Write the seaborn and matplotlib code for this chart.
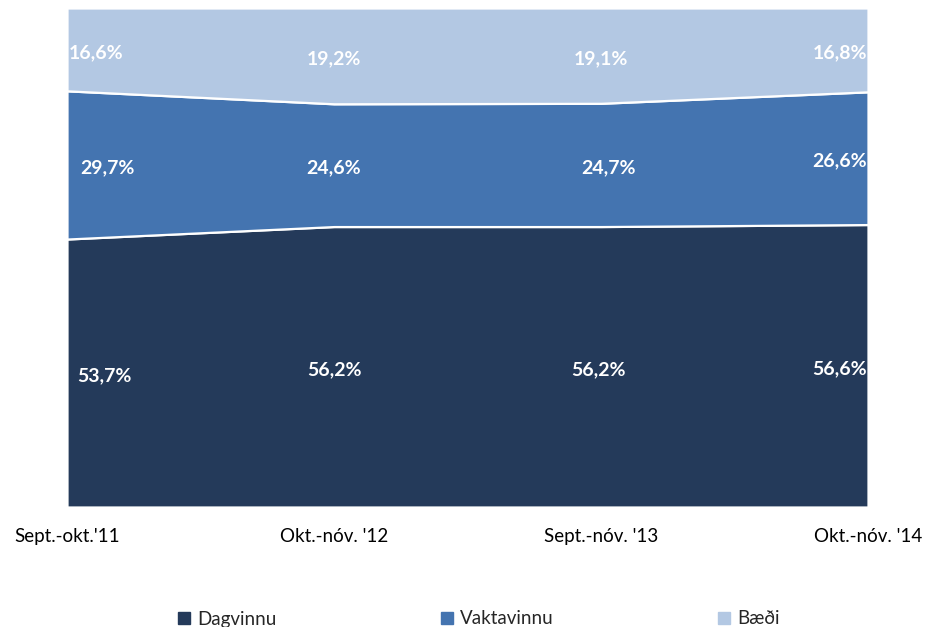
import matplotlib
matplotlib.use("Agg")
import matplotlib.pyplot as plt
from matplotlib.lines import Line2D
import numpy as np
import seaborn as sns

# ---- data ----
periods = ["Sept.-okt.'11", "Okt.-nóv. '12", "Sept.-nóv. '13", "Okt.-nóv. '14"]
series_names = ["Dagvinnu", "Vaktavinnu", "Bæði"]
dagvinnu = [53.7, 56.2, 56.2, 56.6]
vaktavinnu = [29.7, 24.6, 24.7, 26.6]
baedi = [16.6, 19.2, 19.1, 16.8]

colors = ["#243A5A", "#4474B0", "#B3C8E3"]

sns.set_theme(style="white")
plt.rcParams['font.family'] = ['Lato', 'DejaVu Sans']

fig = plt.figure(figsize=(9.3, 6.27), dpi=100)
ax = fig.add_axes([67/930, 1-507/627, (868-67)/930, (507-8)/627])

x = np.arange(len(periods))
vals = np.array([dagvinnu, vaktavinnu, baedi])
ax.stackplot(x, vals, colors=colors, edgecolor="white", linewidth=1.6)

ax.set_xlim(x[0], x[-1])
ax.set_ylim(0, 100)
ax.set_yticks([])
ax.set_xticks(x)
ax.set_xticklabels(periods, fontsize=13.5, color="black")
ax.tick_params(axis="x", length=0, pad=15)
for s in ax.spines.values():
    s.set_visible(False)

# labels at segment centres
cum = np.cumsum(vals, axis=0)
px = 0.72  # points per pixel
xoff = {(0, 0): 10, (1, 0): 13, (2, 0): 2,
        (0, 2): -3, (1, 2): 8, (2, 2): 0,
        (0, 3): -1, (1, 3): -1, (2, 3): -1}
for i in range(vals.shape[0]):
    for j in range(vals.shape[1]):
        yc = cum[i, j] - vals[i, j] / 2
        ha = "left" if j == 0 else ("right" if j == len(x) - 1 else "center")
        dx = xoff.get((i, j), 0)
        ax.annotate(f"{vals[i, j]:.1f}%".replace(".", ","), (x[j], yc),
                    xytext=(dx * px, -3 * px), textcoords="offset points",
                    ha=ha, va="center", color="white", fontsize=14,
                    fontweight="bold")

handles = [Line2D([], [], marker="s", linestyle="", color=c, markersize=8)
           for c in colors]
fig.legend(handles, series_names, loc="center", bbox_to_anchor=(477/930, 1-619/627),
           ncol=3, frameon=False, fontsize=13.5, columnspacing=8.6,
           handletextpad=0.2, handlelength=1.0)

fig.savefig("out.png", dpi=100)
